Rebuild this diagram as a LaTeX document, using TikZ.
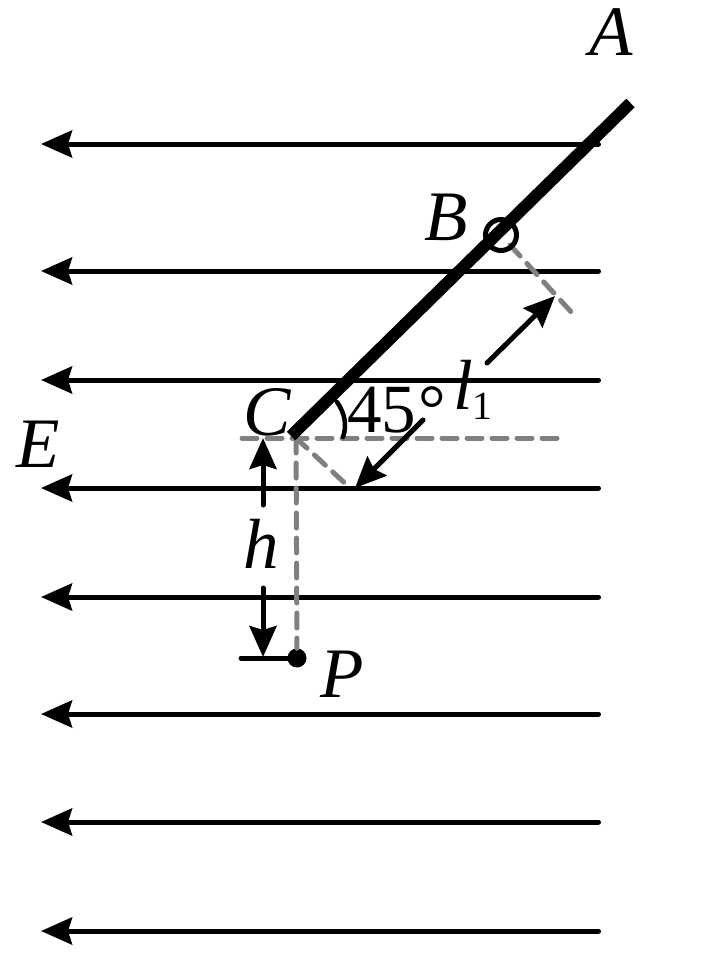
\documentclass[tikz,border=0pt]{standalone}
\usepackage{fontspec}
\setmainfont{Liberation Serif}
\usetikzlibrary{arrows.meta}
\tikzset{
  field/.style={line width=5pt,line cap=round,-{Stealth[length=31pt,width=27pt,inset=4pt]}},
  measure/.style={line width=5pt,line cap=round,-{Stealth[length=31pt,width=27pt,inset=4pt]}},
  guide/.style={draw=guidegray,line width=5pt,line cap=round,dash pattern=on 15pt off 10pt},
  rod/.style={line width=12pt},
  lab/.style={anchor=base west,inner sep=0pt,font=\fontsize{71}{71}\selectfont\itshape},
  lab45/.style={anchor=base west,inner sep=0pt,font=\fontsize{69}{69}\selectfont}
}
\definecolor{guidegray}{HTML}{808080}
\begin{document}
\begin{tikzpicture}[x=1pt,y=-1pt]
\useasboundingbox (0,0) rectangle (702,977);
% field lines
\foreach \n/\yy in {1/144,2/271,3/380,4/488,5/597,6/714,7/822,8/931}{
  \coordinate (fr\n) at (598.5,\yy);
  \coordinate (fl\n) at (41,\yy);
  \draw[field] (fr\n) -- (fl\n);
}
% guides
\coordinate (cc) at (296,438);
\coordinate (hl) at (242,438);
\coordinate (hr) at (560,438);
\coordinate (d1) at (349,487);
\coordinate (d2) at (510,245);
\coordinate (d3) at (573,314);
\node[circle,fill=black,minimum size=19pt,inner sep=0pt] (p) at (297,658) {};
\coordinate (pl) at (241,658);
\draw[guide] (hl) -- (hr);
\draw[guide] (cc) -- (p);
\draw[guide] (cc) -- (d1);
\draw[guide] (d2) -- (d3);
\draw[line width=5pt,line cap=round] (pl) -- (p);
% rod
\coordinate (rb) at (291,436);
\coordinate (rt) at (630.5,103);
\draw[rod] (rb) -- (rt);
\node[circle,draw=black,line width=5pt,minimum size=31pt,inner sep=0pt] (bead) at (501,235) {};
% angle
\coordinate (a1) at (337,402);
\coordinate (a2) at (343,437);
\draw[line width=4.5pt,line cap=round] (a1) .. controls (345,413) and (347,426) .. (a2);
% dimension arrows
\coordinate (l1s) at (487,363);
\coordinate (l1e) at (555,296);
\coordinate (l2s) at (423,420);
\coordinate (l2e) at (355,488);
\draw[measure] (l1s) -- (l1e);
\draw[measure] (l2s) -- (l2e);
\coordinate (h1s) at (263,505);
\coordinate (h1e) at (263,438);
\coordinate (h2s) at (263,588);
\coordinate (h2e) at (263,657);
\draw[measure] (h1s) -- (h1e);
\draw[measure] (h2s) -- (h2e);
% labels
\node[lab] (A) at (589,55) {A};
\node[lab] (B) at (424,240) {B};
\node[lab] (C) at (243,435) {C};
\node[lab] (E) at (16,467) {E};
\node[lab] (h) at (243,568) {h};
\node[lab] (P) at (320,697) {P};
\node[lab45] (ang) at (347,432) {45\kern2pt°};
\node[lab] (l) at (453,409) {l};
\node[anchor=base west,inner sep=0pt,font=\fontsize{40}{40}\selectfont] (one) at (472,419) {1};
\end{tikzpicture}
\end{document}
